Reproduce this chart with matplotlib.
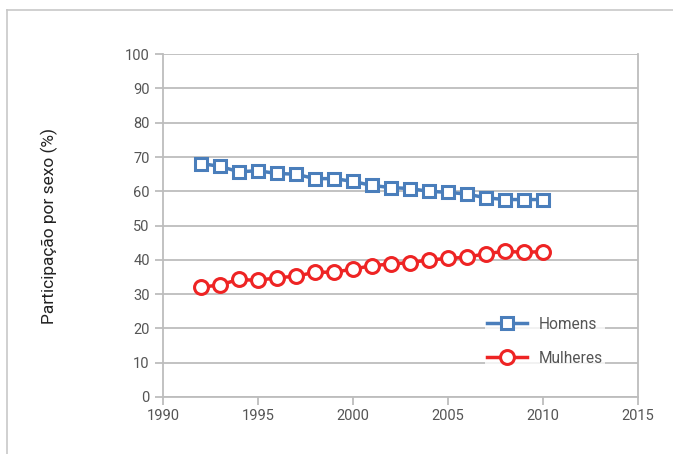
import matplotlib.pyplot as plt
from matplotlib.lines import Line2D

plt.rcParams['font.family'] = ['Roboto', 'DejaVu Sans']

years = list(range(1992, 2011))
homens = [68.1, 67.3, 65.7, 66.0, 65.2, 65.0, 63.7, 63.7, 62.9, 61.7,
          61.1, 60.8, 60.0, 59.7, 59.2, 58.1, 57.6, 57.6, 57.6]
mulheres = [32.0, 32.7, 34.3, 34.0, 34.8, 35.2, 36.4, 36.4, 37.3, 38.3,
            38.8, 39.2, 40.0, 40.4, 40.8, 41.8, 42.5, 42.2, 42.4]

yticks = list(range(0, 101, 10))
xticks = [1990, 1995, 2000, 2005, 2010, 2015]

grid_col = "#bdbdbd"
text_col = "#555555"

fig = plt.figure(figsize=(6.73, 4.54), dpi=100)
ax = fig.add_axes([0.242, 0.1256, 0.706, 0.755])

# outer frame of the figure box
fig.add_artist(Line2D([7 / 673, 7 / 673], [1 - 10 / 454, -0.1], color="#c8c8c8", lw=1.2,
                      transform=fig.transFigure))
fig.add_artist(Line2D([7 / 673, 1.1], [1 - 10 / 454, 1 - 10 / 454], color="#c8c8c8", lw=1.2,
                      transform=fig.transFigure))

ax.plot(years, homens, color="#4a7ebb", lw=2.5, marker="s", ms=9, mfc="white",
        mec="#4a7ebb", mew=2.2, label="Homens", zorder=3)
ax.plot(years, mulheres, color="#ee2424", lw=2.5, marker="o", ms=10, mfc="white",
        mec="#ee2424", mew=2.2, label="Mulheres", zorder=3)

ax.set_xlim(1990, 2015)
ax.set_ylim(0, 100)
ax.set_xticks(xticks)
ax.set_yticks(yticks)
ax.yaxis.grid(True, color=grid_col, lw=1.3)
ax.set_axisbelow(True)
for s in ["left", "bottom", "right"]:
    ax.spines[s].set_color(grid_col)
    ax.spines[s].set_linewidth(1.3)
ax.spines["top"].set_visible(False)
ax.tick_params(axis="both", colors=grid_col, labelcolor=text_col, labelsize=10.5,
               length=6, width=1.3, direction="out")
ax.tick_params(axis="x", pad=3)

ax.set_ylabel("Participação por sexo (%)", fontsize=12.5, color="#222222", labelpad=48)

leg = ax.legend(loc="lower right", bbox_to_anchor=(0.93, 0.085), frameon=True,
                fontsize=11.2, handlelength=2.6, labelspacing=1.2, borderpad=0.15,
                handletextpad=0.7, borderaxespad=0)
leg.get_frame().set_facecolor("white")
leg.get_frame().set_edgecolor("none")
for t in leg.get_texts():
    t.set_color(text_col)

fig.savefig("out.png", dpi=100)
